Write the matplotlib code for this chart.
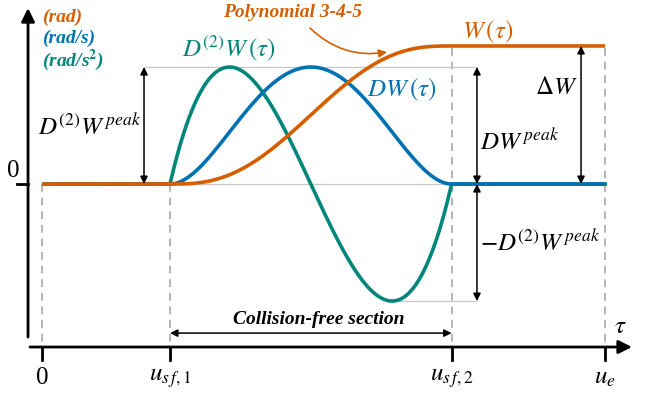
import numpy as np
import matplotlib
matplotlib.use("Agg")
import matplotlib.pyplot as plt

plt.rcParams["font.family"] = ["Liberation Serif", "DejaVu Serif"]
plt.rcParams["mathtext.fontset"] = "stix"

# polynomial 3-4-5 coefficients (s = 10u^3 - 15u^4 + 6u^5), highest power first
poly_345 = [6, -15, 10, 0, 0, 0]

tau_marks = [0.0, 1.0, 3.2, 4.4]
tick_labels = ["0", r"$u_{s\,f,1}$", r"$u_{s\,f,2}$", r"$u_e$"]

delta_w = 1.18     # total rise of W
dw_peak = 1.0      # peak of DW
d2w_peak = 1.0     # peak of D^(2)W

orange = "#D55E00"
blue = "#0072B2"
green = "#00877A"
grey = "#b4b4b4"
light = "#c8c8c8"

u_s, u_f, u_e = tau_marks[1], tau_marks[2], tau_marks[3]
T = u_f - u_s

p = np.poly1d(poly_345)
dp = p.deriv()
d2p = dp.deriv()
u_pk1 = (3 - np.sqrt(3)) / 6   # D2W max
u_pk2 = (3 + np.sqrt(3)) / 6   # D2W min

tau = np.linspace(0, u_e, 1200)
u = np.clip((tau - u_s) / T, 0, 1)
W = delta_w * p(u)
DW = dw_peak * dp(u) / dp(0.5)
D2W = d2w_peak * d2p(u) / d2p(u_pk1)
D2W[(tau < u_s) | (tau > u_f)] = 0

fig = plt.figure(figsize=(6.54, 3.93), dpi=100)
ax = fig.add_axes([0, 0, 1, 1])
ax.set_xlim(-0.328, 4.781)
ax.set_ylim(-1.786, 1.573)
ax.axis("off")

ax_y = -1.393   # height of the tau axis
lw_c = 2.6
fs_math = 18
fs_bold = 14

# guide lines
ax.plot([0, u_e], [0, 0], color=light, lw=0.9, zorder=1)
for t in tau_marks[:2]:
    ax.plot([t, t], [0, ax_y], color=grey, lw=1.4, ls=(0, (4, 3)), zorder=1)
for t in tau_marks[2:]:
    ax.plot([t, t], [delta_w - 0.02, ax_y], color=grey, lw=1.4, ls=(0, (4, 3)), zorder=1)

x_left_arrow = 0.797
x_right_arrow = 3.398
x_dw_arrow = 4.211
ax.plot([x_left_arrow, x_right_arrow], [d2w_peak, d2w_peak], color=light, lw=0.9, zorder=1)
t_min = u_s + u_pk2 * T
ax.plot([t_min, x_right_arrow], [-d2w_peak, -d2w_peak], color=light, lw=0.9, zorder=1)

# curves
ax.plot(tau[tau >= u_s], D2W[tau >= u_s], color=green, lw=lw_c, zorder=3)
ax.plot(tau, DW, color=blue, lw=lw_c, zorder=4, solid_capstyle="butt")
ax.plot(tau, W, color=orange, lw=lw_c, zorder=5, solid_capstyle="butt")

# magnitude arrows
arr = dict(arrowstyle="<|-|>", color="black", lw=1.1, mutation_scale=11,
           shrinkA=0, shrinkB=0)
ax.annotate("", xy=(x_left_arrow, d2w_peak), xytext=(x_left_arrow, 0), arrowprops=arr, zorder=6)
ax.annotate("", xy=(x_right_arrow, dw_peak), xytext=(x_right_arrow, 0), arrowprops=arr, zorder=6)
ax.annotate("", xy=(x_right_arrow, -d2w_peak), xytext=(x_right_arrow, 0), arrowprops=arr, zorder=6)
ax.annotate("", xy=(x_dw_arrow, delta_w), xytext=(x_dw_arrow, 0), arrowprops=arr, zorder=6)
ax.annotate("", xy=(u_s, -1.274), xytext=(u_f, -1.274), arrowprops=arr, zorder=6)

# axes with arrow heads
ax_arr = dict(arrowstyle="-|>", color="black", lw=2.0, mutation_scale=20,
              shrinkA=0, shrinkB=0)
ax.annotate("", xy=(4.609, ax_y), xytext=(-0.094, ax_y), arrowprops=ax_arr)
ax.annotate("", xy=(-0.109, 1.504), xytext=(-0.109, -1.308), arrowprops=ax_arr)
ax.plot([-0.195, -0.109], [0, 0], color="black", lw=2.0)
for t, lab in zip(tau_marks, tick_labels):
    ax.plot([t, t], [ax_y, -1.504], color="black", lw=2.0)
    ax.text(t, -1.66, lab, ha="center", va="center", fontsize=fs_math)
ax.text(-0.227, 0.111, "0", ha="center", va="center", fontsize=fs_math)
ax.text(4.516, -1.222, r"$\tau$", ha="center", va="center", fontsize=fs_math)

# units
unit_kw = dict(ha="left", va="center", fontsize=fs_bold, fontweight="bold", style="italic")
ax.text(0.0, 1.427, "(rad)", color=orange, **unit_kw)
ax.text(0.0, 1.248, "(rad/s)", color=blue, **unit_kw)
ax.text(0.0, 1.06, r"(rad/s$^{\mathbf{2}}$)", color=green, **unit_kw)

# curve labels
ax.text(1.094, 1.162, r"$D^{(2)}W\,(\tau)$", color=green, ha="left", va="center", fontsize=fs_math)
ax.text(3.281, 1.299, r"$W\,(\tau)$", color=orange, ha="left", va="center", fontsize=fs_math)
ax.text(2.539, 0.803, r"$DW\,(\tau)$", color=blue, ha="left", va="center", fontsize=fs_math)
ax.text(3.852, 0.821, r"$\Delta W$", ha="left", va="center", fontsize=fs_math)
ax.text(-0.031, 0.487, r"$D^{(2)}W^{\,peak}$", ha="left", va="center", fontsize=fs_math)
ax.text(3.422, 0.359, r"$DW^{\,peak}$", ha="left", va="center", fontsize=fs_math)
ax.text(3.422, -0.504, r"$-D^{(2)}W^{\,peak}$", ha="left", va="center", fontsize=fs_math)

ax.text(2.16, -1.162, "Collision-free section", ha="center", va="center",
        fontsize=fs_bold, fontweight="bold", style="italic")

# pointer to the W curve
ax.text(1.961, 1.462, "Polynomial 3-4-5", color=orange, ha="center", va="center",
        fontsize=fs_bold, fontweight="bold", style="italic")
ax.annotate("", xy=(2.695, 1.128), xytext=(2.094, 1.333),
            arrowprops=dict(arrowstyle="-|>", color=orange, lw=1.2, mutation_scale=12,
                            shrinkA=0, shrinkB=0, connectionstyle="arc3,rad=0.25"))

fig.savefig("out.png", dpi=100)
